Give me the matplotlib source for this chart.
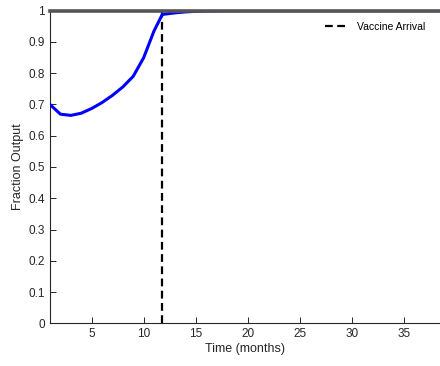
import matplotlib
matplotlib.use("Agg")
import matplotlib.pyplot as plt

plt.rcParams['font.family'] = ['Liberation Sans', 'DejaVu Sans']

time_months = [1, 2, 3, 4, 5, 6, 7, 8, 9, 10, 11, 11.8, 13, 14, 15, 16, 20, 25, 30, 35, 38.5]
fraction_output = [0.700, 0.669, 0.665, 0.672, 0.687, 0.706, 0.729, 0.756, 0.790, 0.849, 0.935,
                   0.988, 0.993, 0.996, 0.998, 0.999, 1.0, 1.0, 1.0, 1.0, 1.0]
vaccine_arrival = 11.78
full_output = 1.0
x_ticks = [5, 10, 15, 20, 25, 30, 35]
y_ticks = [0, 0.1, 0.2, 0.3, 0.4, 0.5, 0.6, 0.7, 0.8, 0.9, 1]
y_ticklabels = ['0', '0.1', '0.2', '0.3', '0.4', '0.5', '0.6', '0.7', '0.8', '0.9', '1']

fig = plt.figure(figsize=(4.4, 3.66), dpi=100)
ax = fig.add_axes([0.1136, 0.1167, 0.8864, 0.8541])

ax.plot(time_months, fraction_output, color='#0000ff', lw=2.2, zorder=3)
ax.axvline(vaccine_arrival, color='black', ls=(0, (3.5, 2.0)), lw=1.6, label='Vaccine Arrival', zorder=2)
ax.axhline(full_output, color='#555555', lw=2.6, zorder=4, clip_on=False)

ax.set_xlim(1, 38.5)
ax.set_ylim(0, 1)
ax.set_xticks(x_ticks)
ax.set_yticks(y_ticks)
ax.set_yticklabels(y_ticklabels)
ax.tick_params(direction='in', length=4, width=0.7, labelsize=8.5, colors='#262626')
for s in ['top', 'right']:
    ax.spines[s].set_visible(False)
for s in ['left', 'bottom']:
    ax.spines[s].set_color('#262626')
    ax.spines[s].set_linewidth(0.8)

ax.set_xlabel('Time (months)', fontsize=9, color='#262626', labelpad=2)
ax.set_ylabel('Fraction Output', fontsize=9, color='#262626', labelpad=3)

leg = ax.legend(loc='upper right', frameon=False, fontsize=7.5, handlelength=2.2,
                bbox_to_anchor=(0.985, 0.995))

fig.savefig('out.png', dpi=100)
